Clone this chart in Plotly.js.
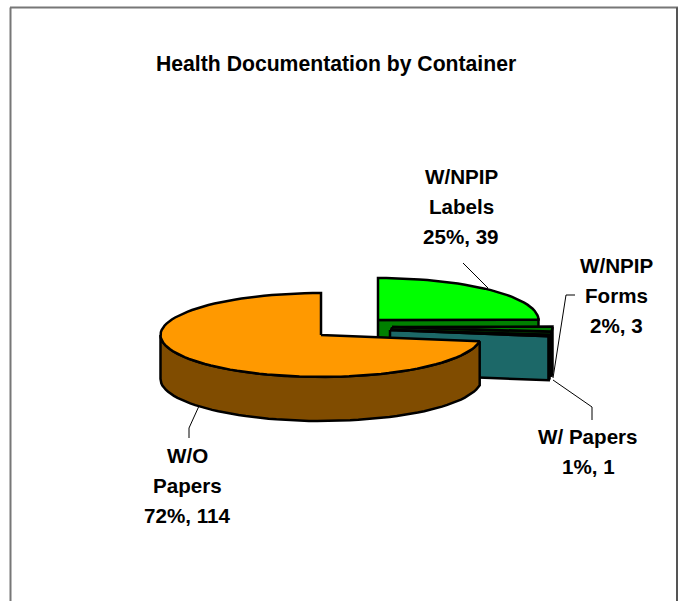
<!DOCTYPE html>
<html>
<head>
<meta charset="utf-8">
<script src="https://cdn.plot.ly/plotly-3.0.1.min.js"></script>
<style>html,body{margin:0;padding:0;background:#fff}#c{width:678px;height:601px}</style>
</head>
<body>
<div id="c"></div>
<script>
var chartTitle = 'Health Documentation by Container';
var categories = ['W/NPIP Labels', 'W/NPIP Forms', 'W/ Papers', 'W/O Papers'];
var values = [39, 3, 1, 114];
var percents = [25, 2, 1, 72];

var topColors = ['#00FF00', '#008000', '#339999', '#FF9900'];
var wallColors = ['#008000', '#004000', '#1C6868', '#804C00'];
var centersX = [378, 392, 390, 321];
var centersY = [320, 327, 330, 335];
var radiusX = 160.5, radiusY = 42, depth = 44;

var labelLinesText = [['W/NPIP', 'Labels'], ['W/NPIP', 'Forms'], ['W/ Papers'], ['W/O', 'Papers']];
var labelX = [461, 616, 588, 187];
var labelY = [176, 265, 436, 455];
var lineGap = 30;

var leaderX = [[463, 488], [575, 566, 553], [553, 592, 592], [199, 189, 189]];
var leaderY = [[263, 288], [295, 295, 378], [380, 407, 420], [406, 428, 438]];

var total = values.reduce(function (a, b) { return a + b; }, 0);
var traces = [];
var rad = Math.PI / 180;

function pt(i, deg, drop) {
  return [centersX[i] + radiusX * Math.cos(deg * rad),
          centersY[i] - radiusY * Math.sin(deg * rad) + (drop || 0)];
}
function poly(pts, fill) {
  traces.push({
    type: 'scatter', mode: 'lines', fill: 'toself', fillcolor: fill,
    x: pts.map(function (p) { return p[0]; }),
    y: pts.map(function (p) { return p[1]; }),
    line: { color: '#000', width: 2.5 }, hoverinfo: 'skip', showlegend: false
  });
}
function arc(i, a0, a1, drop) {
  var n = Math.max(2, Math.ceil(Math.abs(a1 - a0) / 3)), out = [];
  for (var k = 0; k <= n; k++) out.push(pt(i, a0 + (a1 - a0) * k / n, drop));
  return out;
}

// Slices run clockwise from 12 o'clock
var start = 90;
values.forEach(function (v, i) {
  var sweep = v / total * 360, end = start - sweep;
  var apex = [centersX[i], centersY[i]];
  // cut face on the clockwise end of the slice (hidden for the large back-facing slice)
  if (i < 3) {
    var rim = pt(i, end, 0), rimB = pt(i, end, depth);
    poly([apex, rim, rimB, [apex[0], apex[1] + depth], apex], wallColors[i]);
  }
  // outer wall: the part of the rim facing the viewer (angles 0 to -180)
  var a0 = Math.min(start, 0), a1 = Math.max(end, -180);
  if (a0 > a1) {
    var front = arc(i, a0, a1, 0), back = arc(i, a1, a0, depth);
    poly(front.concat(back, [front[0]]), wallColors[i]);
  }
  // top face
  poly([apex].concat(arc(i, start, end, 0), [apex]), topColors[i]);
  start = end;
});

// leader lines
leaderX.forEach(function (xs, i) {
  traces.push({ type: 'scatter', mode: 'lines', x: xs, y: leaderY[i],
    line: { color: '#000', width: 1 }, hoverinfo: 'skip', showlegend: false });
});

var annotations = [];
function label(text, x, y, size) {
  annotations.push({ text: '<b>' + text + '</b>', x: x, y: y, xref: 'x', yref: 'y',
    showarrow: false, xanchor: 'center', yanchor: 'middle',
    font: { family: '"Liberation Sans", Arial, sans-serif', size: size, color: '#000' } });
}
categories.forEach(function (c, i) {
  var lines = labelLinesText[i].concat([percents[i] + '%, ' + values[i]]);
  lines.forEach(function (t, k) { label(t, labelX[i], labelY[i] + k * lineGap, 20.6); });
});
label(chartTitle, 335.5, 64, 21.2);

var layout = {
  width: 678, height: 601,
  margin: { l: 0, r: 0, t: 0, b: 0 },
  paper_bgcolor: '#fff', plot_bgcolor: '#fff',
  showlegend: false,
  xaxis: { range: [0, 678], visible: false, fixedrange: true },
  yaxis: { range: [601, 0], visible: false, fixedrange: true },
  annotations: annotations,
  shapes: [
    { type: 'line', xref: 'x', yref: 'y', x0: 10.5, x1: 10.5, y0: 7.5, y1: 601, line: { color: '#777', width: 2 } },
    { type: 'line', xref: 'x', yref: 'y', x0: 10, x1: 678, y0: 7.5, y1: 7.5, line: { color: '#777', width: 2 } },
    { type: 'line', xref: 'x', yref: 'y', x0: 677, x1: 677, y0: 7.5, y1: 601, line: { color: '#555', width: 2 } }
  ]
};
Plotly.newPlot('c', traces, layout, { displayModeBar: false, staticPlot: true });
</script>
</body>
</html>
